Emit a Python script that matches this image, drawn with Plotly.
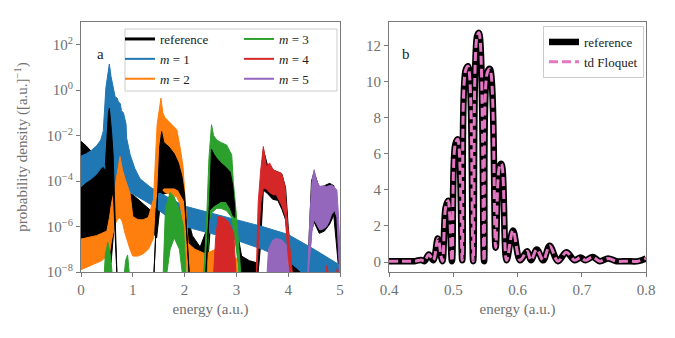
import plotly.graph_objects as go

# ---- panel a: envelopes of the dense spectra, log10 of density ----
ref_e  = [0.00, 0.10, 0.20, 0.30, 0.40, 0.46, 0.52, 0.58, 0.64, 0.70, 0.80, 0.90, 1.00, 1.10, 1.20, 1.30, 1.40, 1.46,
          1.55, 1.70, 1.85, 1.97, 2.05, 2.15, 2.30, 2.45, 2.52, 2.65, 2.80, 2.92, 3.00, 3.10, 3.25, 3.40, 3.46, 3.52,
          3.60, 3.70, 3.80, 3.88, 3.95, 4.00, 4.06, 4.20, 4.38, 4.45, 4.50, 4.60, 4.70, 4.80, 4.88, 4.95, 5.00]
ref_hi = [-2.25, -2.45, -2.7, -2.9, -3.0, -3.2, -1.5, -1.5, -3.0, -3.5, -3.8, -4.5, -4.6, -4.8, -5.0, -5.2, -5.4, -4.8,
          -2.0, -2.6, -3.0, -4.5, -5.5, -6.4, -6.9, -6.0, -2.6, -3.1, -3.5, -4.2, -6.0, -7.3, -7.5, -7.6, -5.0, -2.6,
          -3.3, -3.5, -3.6, -3.7, -4.3, -6.0, -7.4, -7.6, -7.7, -4.0, -3.6, -4.3, -4.2, -4.1, -4.2, -5.8, -8.5]
ref_lo = [-6.6, -6.55, -6.5, -6.45, -6.4, -7.3, -7.5, -7.6, -6.0, -5.6, -5.6, -6.2, -6.3, -6.2, -6.0, -5.9, -6.3, -6.5,
          -4.6, -4.5, -4.4, -5.0, -7.0, -7.6, -7.8, -7.5, -5.3, -5.1, -4.9, -5.4, -6.8, -8.5, -8.5, -8.5, -7.0, -4.4,
          -4.55, -4.8, -4.85, -5.25, -5.7, -6.8, -8.5, -8.5, -8.5, -6.2, -5.8, -6.3, -6.2, -5.9, -5.5, -7.2, -8.5]

# parts of the reference that sit on top of the coloured bands
ref_top_e  = [0.47, 0.50, 0.53, 0.547, 0.57, 0.59, 0.62, 0.70, 1.40, 1.48, 1.52, 1.557, 1.60, 1.70, 1.80, 1.88, 1.95, 2.00,
              2.10, 2.40, 2.48, 2.52, 2.56, 2.62, 2.70, 2.80, 2.88, 2.93, 2.97]
ref_top_hi = [-3.3, -1.8, -1.0, -0.79, -1.3, -1.82, -2.85, -8.5, -8.5, -4.4, -2.5, -1.82, -2.3, -2.5, -2.8, -3.2, -3.8, -4.6,
              -8.5, -8.5, -5.0, -2.6, -2.8, -3.0, -3.2, -3.4, -3.6, -4.2, -5.2]
ref_top_lo = [-4.3, -4.5, -4.6, -4.6, -4.5, -4.4, -4.3, -8.5, -8.5, -4.5, -4.5, -4.4, -4.3, -4.3, -4.3, -4.4, -4.7, -4.9,
              -8.5, -8.5, -5.3, -5.2, -5.1, -5.0, -4.9, -4.9, -5.2, -5.5, -5.6]

m1_e  = [0.00, 0.10, 0.20, 0.30, 0.38, 0.43, 0.48, 0.52, 0.547, 0.58, 0.62, 0.66, 0.70, 0.72, 0.76, 0.78, 0.82, 0.85,
         0.87, 0.88, 0.95, 1.04, 1.14, 1.33, 1.50, 1.75, 2.00, 2.50, 3.00, 3.50, 4.00, 4.50, 5.00]
m1_hi = [-2.9, -2.8, -2.65, -2.45, -2.2, -1.8, 0.1, 0.8, 1.15, 0.6, 0.1, -0.3, -0.35, -0.5, -0.6, -0.9, -1.0, -1.4,
         -1.5, -2.1, -2.85, -3.45, -3.9, -4.25, -4.5, -4.8, -5.1, -5.4, -5.7, -6.0, -6.35, -7.0, -7.7]
m1_lo = [-4.25, -4.05, -3.9, -3.7, -3.45, -3.35, -3.5, -3.8, -4.0, -4.2, -4.3, -4.3, -4.3, -4.35, -4.35, -4.35, -4.4, -4.4,
         -4.45, -4.45, -4.5, -4.6, -4.75, -5.0, -5.3, -5.7, -6.0, -6.3, -6.6, -7.0, -7.5, -8.5, -8.5]

m2_e  = [0.00, 0.10, 0.20, 0.30, 0.40, 0.50, 0.55, 0.59, 0.656, 0.70, 0.753, 0.80, 0.85, 0.946, 1.00, 1.10, 1.20, 1.30,
         1.40, 1.43, 1.47, 1.544, 1.58, 1.62, 1.75, 1.85, 1.91, 1.97, 2.01, 2.07, 2.20, 2.40, 2.60, 2.80, 3.00, 3.05]
m2_hi = [-6.55, -6.5, -6.45, -6.4, -6.3, -6.2, -5.6, -4.97, -4.28, -3.6, -2.92, -3.5, -3.9, -4.53, -5.56, -5.7, -5.7, -5.6,
         -4.8, -3.36, -1.5, -0.35, -1.0, -1.2, -1.5, -1.74, -2.48, -3.36, -4.8, -6.74, -7.0, -7.2, -7.0, -7.1, -7.4, -8.5]
m2_lo = [-7.9, -7.8, -7.7, -7.6, -7.5, -7.3, -7.2, -6.6, -5.9, -5.7, -5.6, -5.8, -6.3, -7.0, -7.3, -7.3, -7.2, -7.0,
         -6.5, -5.2, -4.4, -4.3, -4.4, -4.5, -4.6, -4.7, -5.0, -5.8, -7.0, -8.5, -8.5, -8.5, -8.5, -8.5, -8.5, -8.5]

m3_e  = [0.44, 0.47, 0.52, 0.57, 0.62, 0.82, 0.86, 0.90, 0.95, 1.58, 1.63, 1.72, 1.80, 1.90, 1.98, 2.04, 2.36, 2.42,
         2.47, 2.52, 2.56, 2.62, 2.70, 2.81, 2.91, 2.94, 3.00, 3.07, 3.10, 3.70, 3.75, 3.80]
m3_hi = [-8.5, -7.2, -6.7, -7.3, -8.5, -8.5, -7.5, -7.25, -8.5, -8.5, -5.2, -4.5, -4.7, -5.3, -6.0, -8.5, -8.5, -6.0,
         -3.0, -1.52, -2.0, -2.19, -2.3, -2.41, -2.85, -4.02, -5.5, -7.55, -8.5, -8.5, -7.6, -8.5]
m3_lo = [-8.5, -8.5, -8.5, -8.5, -8.5, -8.5, -8.5, -8.5, -8.5, -8.5, -8.5, -7.0, -6.5, -7.0, -8.5, -8.5, -8.5, -8.5,
         -5.8, -5.4, -5.3, -5.2, -5.2, -5.3, -5.6, -6.0, -7.0, -8.5, -8.5, -8.5, -8.5, -8.5]

m4_e  = [2.55, 2.60, 2.65, 2.75, 2.85, 2.95, 3.00, 3.38, 3.42, 3.47, 3.52, 3.58, 3.64, 3.71, 3.77, 3.87, 3.94, 3.97,
         4.03, 4.07, 4.10, 4.70, 4.75, 4.80, 4.90, 4.95, 5.00]
m4_hi = [-8.5, -6.5, -5.56, -5.6, -5.8, -6.3, -8.5, -8.5, -4.97, -3.5, -2.48, -3.36, -3.2, -3.5, -3.57, -3.65, -4.24, -5.41,
         -6.88, -7.77, -8.5, -8.5, -7.7, -8.5, -8.5, -7.8, -8.5]
m4_lo = [-8.5, -8.5, -8.5, -8.5, -8.5, -8.5, -8.5, -8.5, -7.0, -5.0, -4.3, -4.35, -4.5, -4.6, -4.6, -5.05, -5.5, -6.4,
         -8.5, -8.5, -8.5, -8.5, -8.5, -8.5, -8.5, -8.5, -8.5]

m5_e  = [3.58, 3.62, 3.70, 3.78, 3.88, 3.96, 4.03, 4.37, 4.42, 4.46, 4.50, 4.55, 4.61, 4.68, 4.74, 4.79, 4.84, 4.90,
         4.94, 4.97, 5.00]
m5_hi = [-8.5, -7.0, -6.6, -6.52, -6.6, -6.8, -8.5, -8.5, -5.5, -4.0, -3.5, -4.0, -4.24, -4.2, -4.24, -4.2, -4.17, -4.3,
         -4.39, -5.5, -7.0]
m5_lo = [-8.5, -8.5, -8.5, -8.5, -8.5, -8.5, -8.5, -8.5, -7.5, -6.2, -5.7, -5.9, -6.15, -6.1, -6.0, -5.78, -5.45, -5.3,
         -5.6, -7.0, -8.5]

# ---- panel b ----
b_energy = [0.400, 0.420, 0.440, 0.450, 0.455, 0.462, 0.469, 0.476, 0.483, 0.488, 0.492, 0.498, 0.503, 0.507, 0.514,
            0.519, 0.523, 0.531, 0.537, 0.540, 0.548, 0.553, 0.557, 0.566, 0.572, 0.575, 0.583, 0.593, 0.604, 0.615,
            0.621, 0.630, 0.640, 0.650, 0.663, 0.676, 0.689, 0.698, 0.706, 0.717, 0.728, 0.741, 0.754, 0.770, 0.788, 0.800]
b_reference = [0.05, 0.05, 0.05, 0.12, 0.05, 0.42, 0.1, 1.3, 0.05, 3.0, 3.4, 0.05, 6.5, 6.8, 0.1,
               10.6, 10.85, 0.05, 12.5, 12.7, 0.05, 10.5, 10.7, 0.8, 5.3, 5.44, 0.1, 1.75, 0.1, 0.6,
               0.1, 0.7, 0.1, 0.9, 0.05, 0.55, 0.1, 0.25, 0.1, 0.28, 0.05, 0.2, 0.05, 0.05, 0.05, 0.2]
b_floquet = [0.05, 0.05, 0.05, 0.12, 0.05, 0.42, 0.1, 1.3, 0.05, 3.0, 3.4, 0.05, 6.5, 6.8, 0.1,
             10.6, 10.85, 0.05, 12.5, 12.7, 0.05, 10.5, 10.7, 0.8, 5.3, 5.44, 0.1, 1.75, 0.1, 0.6,
             0.1, 0.7, 0.1, 0.9, 0.05, 0.55, 0.1, 0.25, 0.1, 0.28, 0.05, 0.2, 0.05, 0.05, 0.05, 0.2]

BLACK, BLUE, ORANGE, GREEN, RED, PURPLE, PINK = "#000000", "#1f77b4", "#ff7f0e", "#2ca02c", "#d62728", "#9467bd", "#e377c2"
GREY_TXT = "#707070"
GREY_AX = "#7a7a7a"
FONT = "'Liberation Serif', 'DejaVu Serif', serif"

# the page puts the figure 8 px in from the top-left corner
W, H = 667, 330


def band(e, hi, lo, color):
    x = list(e) + list(e)[::-1]
    y = [10 ** v for v in hi] + [10 ** v for v in lo][::-1]
    return go.Scatter(x=x, y=y, mode="lines", fill="toself", fillcolor=color,
                      line=dict(color=color, width=1), showlegend=False, hoverinfo="skip",
                      xaxis="x", yaxis="y")


fig = go.Figure()
fig.add_trace(band(ref_e, ref_hi, ref_lo, BLACK))
fig.add_trace(band(m1_e, m1_hi, m1_lo, BLUE))
fig.add_trace(band(m2_e, m2_hi, m2_lo, ORANGE))
fig.add_trace(band(m3_e, m3_hi, m3_lo, GREEN))
fig.add_trace(band(m4_e, m4_hi, m4_lo, RED))
fig.add_trace(band(m5_e, m5_hi, m5_lo, PURPLE))
fig.add_trace(band(ref_top_e, ref_top_hi, ref_top_lo, BLACK))

# legend entries for panel a (two columns as two legends)
for name, color, w, leg in [("reference", BLACK, 3, "legend"), ("<i>m</i> = 1", BLUE, 2, "legend"),
                            ("<i>m</i> = 2", ORANGE, 2, "legend"), ("<i>m</i> = 3", GREEN, 2, "legend3"),
                            ("<i>m</i> = 4", RED, 2, "legend3"), ("<i>m</i> = 5", PURPLE, 2, "legend3")]:
    fig.add_trace(go.Scatter(x=[None], y=[None], mode="lines", name=name, line=dict(color=color, width=w),
                             legend=leg, xaxis="x", yaxis="y"))

# panel b
fig.add_trace(go.Scatter(x=b_energy, y=b_reference, mode="lines", name="reference", line_shape="spline",
                         line=dict(color=BLACK, width=6.5), xaxis="x2", yaxis="y2", legend="legend2"))
fig.add_trace(go.Scatter(x=b_energy, y=b_floquet, mode="lines", name="td Floquet", line_shape="spline",
                         line=dict(color=PINK, width=3, dash="9px,4px"), xaxis="x2", yaxis="y2", legend="legend2"))

axis_common = dict(showline=True, mirror=True, linecolor=GREY_AX, linewidth=1, ticks="outside", ticklen=4,
                   tickcolor=GREY_AX, showgrid=False, zeroline=False, automargin=False,
                   tickfont=dict(family=FONT, size=15, color=GREY_TXT),
                   title_font=dict(family=FONT, size=15, color=GREY_TXT))

exps = [-8, -6, -4, -2, 0, 2]
leg_font = dict(family=FONT, size=13, color="#222")
fig.update_layout(
    width=W, height=H, margin=dict(l=0, r=0, t=0, b=0),
    paper_bgcolor="white", plot_bgcolor="white",
    font=dict(family=FONT, color=GREY_TXT),
    xaxis=dict(domain=[73 / W, 332 / W], range=[0, 5], dtick=1, title_text="energy (a.u.)", title_standoff=6,
               anchor="y", **axis_common),
    yaxis=dict(domain=[1 - 264 / H, 1 - 14 / H], type="log", range=[-8, 3], tickvals=[10 ** k for k in exps],
               ticktext=["10<sup>−%d</sup>" % -k if k < 0 else "10<sup>%d</sup>" % k for k in exps],
               title_text="probability density ([a.u.]<sup>−1</sup>)", anchor="x", **axis_common),
    xaxis2=dict(domain=[381 / W, 638 / W], range=[0.4, 0.8], dtick=0.1, tickformat=".1f", title_text="energy (a.u.)",
                title_standoff=6, anchor="y2", **axis_common),
    yaxis2=dict(domain=[1 - 264 / H, 1 - 14 / H], range=[-0.55, 13.3], dtick=2, anchor="x2", **axis_common),
    legend=dict(x=112 / W, y=1 - 16 / H, xanchor="left", yanchor="top", bgcolor="rgba(0,0,0,0)", borderwidth=0,
                font=leg_font, tracegroupgap=0),
    legend3=dict(x=231 / W, y=1 - 16 / H, xanchor="left", yanchor="top", bgcolor="rgba(0,0,0,0)", borderwidth=0,
                 font=leg_font, tracegroupgap=0),
    legend2=dict(x=636 / W, y=1 - 18 / H, xanchor="right", yanchor="top", bgcolor="rgba(255,255,255,0.85)",
                 bordercolor="#cccccc", borderwidth=1, font=leg_font),
    shapes=[dict(type="rect", xref="paper", yref="paper", x0=117 / W, x1=329 / W, y0=1 - 83 / H, y1=1 - 21 / H,
                 fillcolor="rgba(255,255,255,0.85)", line=dict(color="#cccccc", width=1), layer="above")],
    annotations=[dict(text="a", x=87 / W, y=1 - 36 / H, xref="paper", yref="paper", showarrow=False,
                      font=dict(family=FONT, size=15, color="#222")),
                 dict(text="b", x=398 / W, y=1 - 36 / H, xref="paper", yref="paper", showarrow=False,
                      font=dict(family=FONT, size=15, color="#222"))],
)

fig.write_html("out.html")
